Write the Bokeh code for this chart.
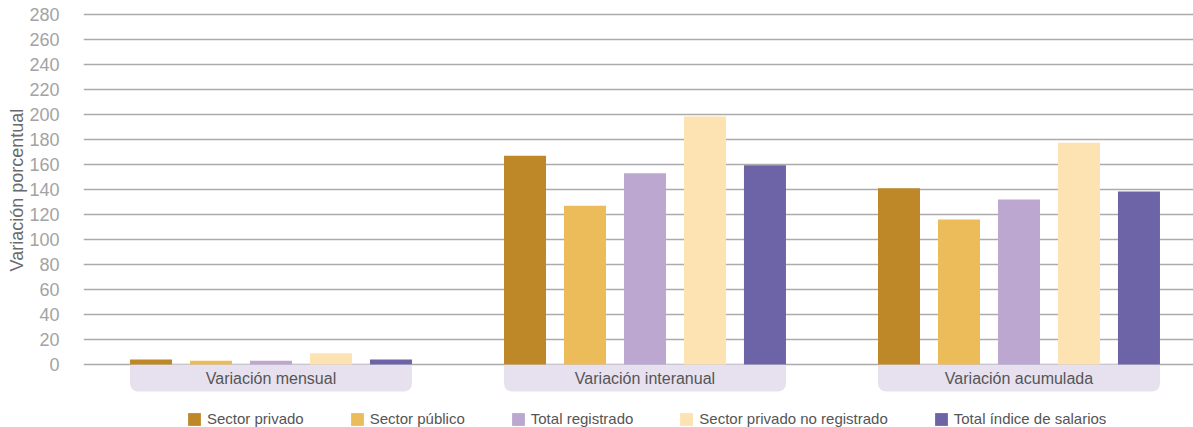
from bokeh.plotting import figure
from bokeh.models import ColumnDataSource, FixedTicker, Range1d, Legend, LegendItem, Title
from bokeh.embed import file_html
from bokeh.resources import INLINE
from bokeh.core.properties import value

# ---- data ----
categories = ["Variación mensual", "Variación interanual", "Variación acumulada"]
series_names = ["Sector privado", "Sector público", "Total registrado",
                "Sector privado no registrado", "Total índice de salarios"]
sector_privado = [4.0, 167.0, 141.0]
sector_publico = [3.0, 127.0, 116.0]
total_registrado = [3.0, 153.0, 132.0]
privado_no_registrado = [9.0, 198.5, 177.5]
total_indice = [4.0, 159.5, 138.5]
y_ticks = [0, 20, 40, 60, 80, 100, 120, 140, 160, 180, 200, 220, 240, 260, 280]

series_values = [sector_privado, sector_publico, total_registrado,
                 privado_no_registrado, total_indice]
colors = ["#BE8727", "#EDBC5A", "#BBA7D0", "#FDE3B1", "#6D64A8"]

FONT = "Liberation Sans"
STEP = 0.1604
BAR_W = 0.1123
BOX_BOTTOM = -21.6

p = figure(width=1193, height=427, output_backend="svg", toolbar_location=None,
           x_range=Range1d(-0.5013, 2.4666), y_range=Range1d(-50.4, 281.6),
           x_axis_location=None, min_border_left=83, min_border_right=0,
           min_border_top=12, min_border_bottom=0)
p.outline_line_color = None
p.background_fill_color = "white"
p.border_fill_color = "white"
for g in p.xgrid:
    g.visible = False

p.yaxis.ticker = FixedTicker(ticks=y_ticks)
p.yaxis.axis_line_color = None
p.yaxis.major_tick_line_color = None
p.yaxis.minor_tick_line_color = None
p.yaxis.major_label_standoff = 18
p.yaxis.major_label_text_font = FONT
p.yaxis.major_label_text_font_size = "18px"
p.yaxis.major_label_text_color = "#a3a3a3"
p.ygrid.grid_line_color = "#ababab"
p.ygrid.grid_line_width = 1.6

# category boxes under the axis
n = len(categories)
half = 2 * STEP + BAR_W / 2
box_src = ColumnDataSource(dict(
    left=[i - half for i in range(n)],
    right=[i + half for i in range(n)],
    top=[0] * n,
    bottom=[BOX_BOTTOM] * n,
))
p.quad(left="left", right="right", top="top", bottom="bottom", source=box_src,
       fill_color="#E7E1EF", line_color=None, border_radius=(0, 0, 8, 8))

p.text(x=list(range(n)), y=[BOX_BOTTOM / 2] * n, text=categories,
       text_align="center", text_baseline="middle",
       text_font=value(FONT), text_font_size="16px", text_color="#555555")

renderers = []
for j, (vals, col) in enumerate(zip(series_values, colors)):
    src = ColumnDataSource(dict(x=[i + (j - 2) * STEP for i in range(n)], top=vals))
    r = p.vbar(x="x", top="top", bottom=0, width=BAR_W, source=src,
               fill_color=col, line_color=None)
    renderers.append(r)

legend = Legend(items=[LegendItem(label=nm, renderers=[r]) for nm, r in zip(series_names, renderers)],
                orientation="horizontal", location=(103, 0), spacing=45, padding=0, margin=0,
                glyph_width=16, glyph_height=16, label_height=16, label_standoff=5,
                label_text_font=FONT, label_text_font_size="15px", label_text_color="#555555",
                border_line_color=None, background_fill_alpha=0)
p.add_layout(legend, "center")

p.add_layout(Title(text="Variación porcentual", align="left", offset=156, standoff=0,
                   text_font=FONT, text_font_size="18px", text_font_style="normal",
                   text_color="#6a6a6a"), "left")

open("out.html", "w").write(file_html(p, INLINE))
